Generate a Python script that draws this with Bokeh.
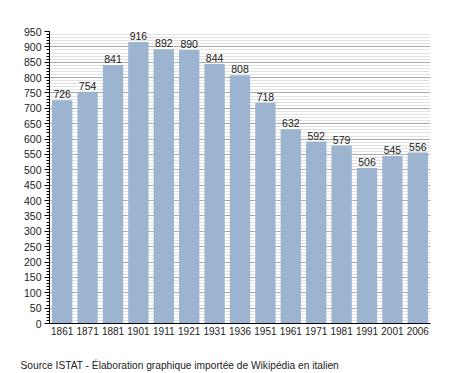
from bokeh.plotting import figure
from bokeh.models import ColumnDataSource, FactorRange, Range1d, FixedTicker, Title
from bokeh.core.properties import value
from bokeh.embed import file_html
from bokeh.resources import INLINE

years = ["1861", "1871", "1881", "1901", "1911", "1921", "1931", "1936",
         "1951", "1961", "1971", "1981", "1991", "2001", "2006"]
population = [726, 754, 841, 916, 892, 890, 844, 808, 718, 632, 592, 579, 506, 545, 556]
y_ticks = list(range(0, 951, 50))
y_minor = list(range(0, 951, 10))
source_note = "Source ISTAT - Élaboration graphique importée de Wikipédia en italien"

FONT = "Liberation Sans"

src = ColumnDataSource(dict(x=years, top=population, lab=[str(v) for v in population]))

p = figure(x_range=FactorRange(*years, range_padding=0), y_range=Range1d(0, 950),
           width=450, height=372, output_backend="svg", toolbar_location=None,
           min_border_left=49, min_border_right=20, min_border_top=31, min_border_bottom=48)

p.outline_line_color = None
p.background_fill_color = "white"

p.vbar(x="x", top="top", width=0.8, source=src, fill_color="#9cb4cf", line_color=None)
p.text(x="x", y="top", text="lab", source=src, text_align="center", text_baseline="bottom",
       y_offset=-2, text_font=value(FONT), text_font_size="10.5px", text_color="#222222")

p.xgrid.grid_line_color = None
p.ygrid.grid_line_color = "#aaaaaa"
p.ygrid.minor_grid_line_color = "#e2e2e2"
p.ygrid.level = "underlay"

p.yaxis.ticker = FixedTicker(ticks=y_ticks, minor_ticks=y_minor)
p.yaxis.axis_line_color = "black"
p.yaxis.major_tick_line_color = "black"
p.yaxis.minor_tick_line_color = "black"
p.yaxis.major_tick_out = 5
p.yaxis.major_tick_in = 0
p.yaxis.minor_tick_out = 3
p.yaxis.minor_tick_in = 0
p.yaxis.major_label_text_font = FONT
p.yaxis.major_label_text_font_size = "10.5px"
p.yaxis.major_label_text_color = "#222222"
p.yaxis.major_label_standoff = 3

p.xaxis.axis_line_color = "black"
p.xaxis.major_tick_line_color = None
p.xaxis.minor_tick_line_color = None
p.xaxis.major_tick_out = 0
p.xaxis.major_tick_in = 0
p.xaxis.major_label_text_font = FONT
p.xaxis.major_label_text_font_size = "10px"
p.xaxis.major_label_text_color = "#222222"
p.xaxis.major_label_standoff = 3
p.xaxis.axis_label = " "
p.xaxis.axis_label_text_font_size = "4px"
p.xaxis.axis_label_standoff = 10

note = Title(text=source_note, align="left", offset=-29, standoff=4,
             text_font=FONT, text_font_size="10.2px", text_font_style="normal",
             text_color="#222222")
p.add_layout(note, "below")

open("out.html", "w").write(file_html(p, INLINE))
